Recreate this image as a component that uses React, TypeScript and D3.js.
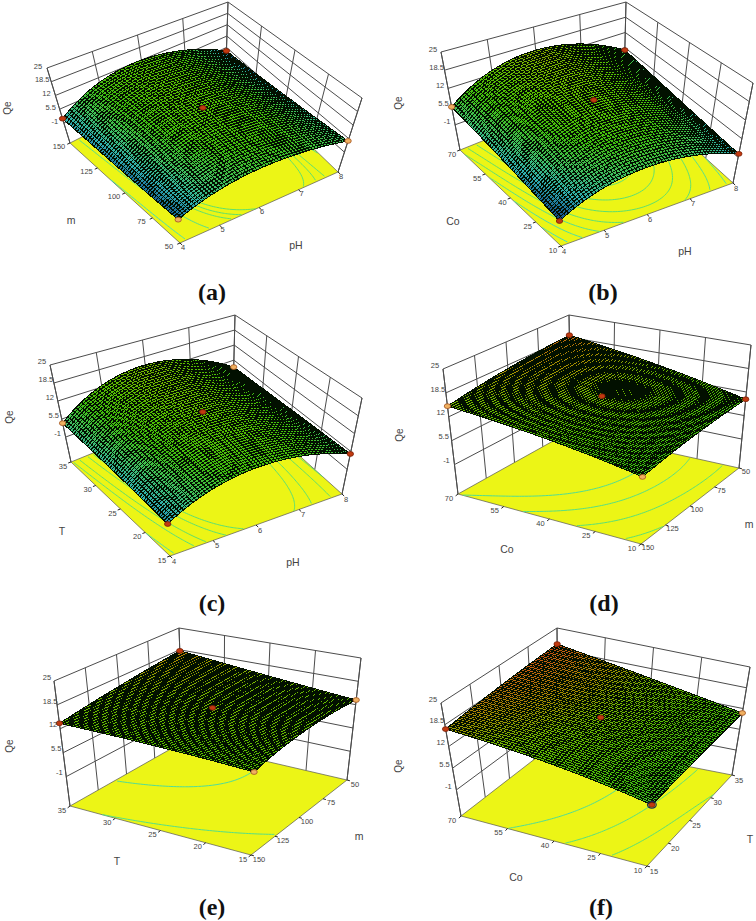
import React from "react";
import * as d3 from "d3";

// ---- data ----
const zTicks = [-1, 5.5, 12, 18.5, 25];
const pHTicks = [4, 5, 6, 7, 8];
const mUp = [50, 75, 100, 125, 150];
const mDown = [150, 125, 100, 75, 50];
const coUp = [10, 25, 40, 55, 70];
const tUp = [15, 20, 25, 30, 35];

// Qe at low / centre / high of each factor; rows run from the front corner toward the left corner
const qeA = [[-1.3, 7, 4.4], [-0.6, 12, 0.9], [1, 12, -3]];
const qeB = [[-2.4, 5.7, 0.2], [1.2, 13.3, 1.9], [5.4, 16, 4.5]];
const qeC = [[0, 9.6, 4.6], [2, 13.6, 3.8], [4, 15.2, 2.5]];
const qeD = [[7.9, 9.5, 10], [12, 15, 15], [14.9, 17.5, 19.1]];
const qeE = [[11.9, 14, 13.3], [13, 15.1, 15.5], [13.5, 16, 18.2]];
const qeF = [[7.6, 9, 10.6], [13, 15.3, 15.5], [17.2, 19, 20.2]];

const levelsA = [-0.2, 3.3, 5.5, 6.2, 6.9];
const levelsB = [-1, 1, 3, 5, 7, 9, 11];
const levelsC = [1, 4.4, 6, 8, 9.2];
const levelsD = [8.8, 11, 13, 14.8];
const levelsE = [13.4, 15.5];
const levelsF = [9.9, 12.5, 15.25];

type Pt = [number, number];
type Panel = {
  id: string; qe: number[][]; levels: number[];
  sTicks: number[]; tTicks: number[]; tName: string; sName: string;
  floor: { L: Pt; F: Pt; R: Pt; B: Pt }; top: { L: Pt; F: Pt; R: Pt; B: Pt };
  zLow: number; sOff: Pt; tOff: Pt; zOff: Pt;
  qePos: Pt; tPos: Pt; sPos: Pt; capPos: Pt;
  pale: string[]; mesh: number;
};

const panels: Panel[] = [
  { id: "a", qe: qeA, levels: levelsA, sTicks: pHTicks, tTicks: mUp, sName: "pH", tName: "m",
    floor: { L: [70, 143], F: [180, 243], R: [338, 172], B: [226, 64] },
    top: { L: [47, 68], F: [173, 153], R: [362, 98], B: [228, 2] },
    zLow: -10.5, sOff: [3, 4], tOff: [-11, 3.5], zOff: [-9, -2],
    qePos: [7, 108], tPos: [71, 220], sPos: [296, 245], capPos: [212, 292], pale: ["F", "R"], mesh: 56 },
  { id: "b", qe: qeB, levels: levelsB, sTicks: pHTicks, tTicks: coUp, sName: "pH", tName: "Co",
    floor: { L: [460, 150], F: [561, 246], R: [733, 183], B: [624, 84] },
    top: { L: [441, 52], F: [554, 131], R: [753, 83], B: [626, 2] },
    zLow: -10, sOff: [3, 5], tOff: [-8, 4], zOff: [-8, -3],
    qePos: [398, 103], tPos: [453, 221], sPos: [685, 251], capPos: [603, 292], pale: ["L"], mesh: 58 },
  { id: "c", qe: qeC, levels: levelsC, sTicks: pHTicks, tTicks: tUp, sName: "pH", tName: "T",
    floor: { L: [71, 462], F: [170, 556], R: [342, 494], B: [233, 396] },
    top: { L: [50, 365], F: [162, 444], R: [362, 398], B: [235, 315] },
    zLow: -10, sOff: [4, 5], tOff: [-8, 4], zOff: [-8, -4],
    qePos: [9, 417], tPos: [62, 531], sPos: [293, 562], capPos: [212, 603], pale: ["L", "B"], mesh: 56 },
  { id: "d", qe: qeD, levels: levelsD, sTicks: mDown, tTicks: coUp, sName: "m", tName: "Co",
    floor: { L: [458, 494], F: [641, 544], R: [739, 468], B: [571, 431] },
    top: { L: [443, 369], F: [644, 409], R: [751, 345], B: [569, 315] },
    zLow: -9, sOff: [7, 3], tOff: [-9, 4], zOff: [-8, -4],
    qePos: [399, 435], tPos: [507, 549], sPos: [749, 524], capPos: [604, 603], pale: ["L", "F"], mesh: 68 },
  { id: "e", qe: qeE, levels: levelsE, sTicks: mDown, tTicks: tUp, sName: "m", tName: "T",
    floor: { L: [70, 806], F: [251, 855], R: [347, 780], B: [183, 742] },
    top: { L: [54, 681], F: [256, 720], R: [361, 658], B: [179, 628] },
    zLow: -9, sOff: [8, 4], tOff: [-8, 4], zOff: [-7, -4],
    qePos: [9, 746], tPos: [117, 861], sPos: [359, 836], capPos: [212, 907], pale: ["F", "R"], mesh: 64 },
  { id: "f", qe: qeF, levels: levelsF, sTicks: tUp, tTicks: coUp, sName: "T", tName: "Co",
    floor: { L: [461, 816], F: [647, 866], R: [732, 775], B: [558, 741] },
    top: { L: [441, 703], F: [657, 740], R: [750, 667], B: [557, 628] },
    zLow: -8.8, sOff: [7, 5], tOff: [-9, 4], zOff: [-8, -4],
    qePos: [398, 766], tPos: [516, 877], sPos: [750, 839], capPos: [601, 907], pale: ["R"], mesh: 58 },
];

const surfaceColor = d3.scaleLinear<string>()
  .domain([-3, -1, 1.5, 5, 9, 13, 15.5, 17.5, 19.5, 21])
  .range(["#10306a", "#1a6a9a", "#30b0b0", "#40c060", "#40c010", "#58c000", "#78b800", "#a89000", "#c86010", "#c83010"])
  .clamp(true);
const contourColor = d3.scaleLinear<string>()
  .domain([-2, 6, 12, 20])
  .range(["#3fdccf", "#5fe06a", "#58e07c", "#40d8c0"]);

const lag = (a: number, b: number, c: number, x: number) =>
  a * (1 - x) * (1 - 2 * x) + b * 4 * x * (1 - x) + c * x * (2 * x - 1);
const qeAt = (q: number[][], s: number, t: number) =>
  lag(lag(q[0][0], q[0][1], q[0][2], s), lag(q[1][0], q[1][1], q[1][2], s), lag(q[2][0], q[2][1], q[2][2], s), t);

function bil(c: { L: Pt; F: Pt; R: Pt; B: Pt }, s: number, t: number): Pt {
  const x = (1 - s) * (1 - t) * c.F[0] + s * (1 - t) * c.R[0] + (1 - s) * t * c.L[0] + s * t * c.B[0];
  const y = (1 - s) * (1 - t) * c.F[1] + s * (1 - t) * c.R[1] + (1 - s) * t * c.L[1] + s * t * c.B[1];
  return [x, y];
}

const line = d3.line<Pt>();
const INK = "#4c4c4c";

function PanelView({ p }: { p: Panel }) {
  const sS = d3.scaleLinear().domain([p.sTicks[0], p.sTicks[4]]).range([0, 1]);
  const tS = d3.scaleLinear().domain([p.tTicks[0], p.tTicks[4]]).range([0, 1]);
  const wS = d3.scaleLinear().domain([p.zLow, 25]).range([0, 1]);
  const proj = (s: number, t: number, z: number): Pt => {
    const a = bil(p.floor, s, t), b = bil(p.top, s, t), w = wS(z);
    return [a[0] + (b[0] - a[0]) * w, a[1] + (b[1] - a[1]) * w];
  };

  // back walls
  const wall: string[] = [];
  const addLine = (pts: Pt[]) => wall.push(line(pts) as string);
  for (const v of p.sTicks) { const s = sS(v); addLine([proj(s, 1, p.zLow), proj(s, 1, 25)]); }
  for (const v of p.tTicks) { const t = tS(v); addLine([proj(1, t, p.zLow), proj(1, t, 25)]); }
  for (const z of zTicks) addLine([proj(0, 1, z), proj(1, 1, z), proj(1, 0, z)]);
  addLine([proj(0, 1, p.zLow), proj(0, 1, 25)]);
  addLine([proj(1, 0, p.zLow), proj(1, 0, 25)]);

  // floor ticks
  const ticks: string[] = [];
  const tDir: Pt = [p.floor.F[0] - p.floor.R[0], p.floor.F[1] - p.floor.R[1]];
  const sDir: Pt = [p.floor.F[0] - p.floor.L[0], p.floor.F[1] - p.floor.L[1]];
  const unit = (d: Pt, k: number): Pt => { const n = Math.hypot(d[0], d[1]); return [d[0] / n * k, d[1] / n * k]; };
  const tu = unit(tDir, 3), su = unit(sDir, 3);
  for (const v of p.tTicks) { const a = proj(0, tS(v), p.zLow); ticks.push(line([a, [a[0] + tu[0], a[1] + tu[1]]]) as string); }
  for (const v of p.sTicks) { const a = proj(sS(v), 0, p.zLow); ticks.push(line([a, [a[0] + su[0], a[1] + su[1]]]) as string); }

  // contours on the floor
  const n = 80;
  const grid = new Array(n * n);
  for (let j = 0; j < n; j++) for (let i = 0; i < n; i++) grid[j * n + i] = qeAt(p.qe, i / (n - 1), j / (n - 1));
  const contourPaths = d3.contours().size([n, n]).thresholds(p.levels)(grid).map((c) => {
    const segs: Pt[][] = [];
    for (const poly of c.coordinates) for (const ring of poly) {
      let cur: Pt[] = [];
      for (const [x, y] of ring as Pt[]) {
        if (x < 0.55 || y < 0.55 || x > n - 0.55 || y > n - 0.55) {
          if (cur.length > 1) segs.push(cur);
          cur = [];
        } else cur.push(bil(p.floor, (x - 0.5) / (n - 1), (y - 0.5) / (n - 1)));
      }
      if (cur.length > 1) segs.push(cur);
    }
    return { z: c.value, d: segs.map((g) => line(g)).join("") };
  });

  // surface, back to front
  const N = p.mesh;
  const uu = d3.scaleLinear().domain([0, N]).range([0, 1]);
  const nodes: Pt[][] = d3.range(N + 1).map((j) => d3.range(N + 1).map((i) => {
    const s = uu(i), t = uu(j);
    return proj(s, t, qeAt(p.qe, s, t));
  }));
  const strips: { key: string; d: string; fill?: string }[] = [];
  for (let j = N - 1; j >= 0; j--) {
    const bins = new Map<string, string>();
    let mesh = "";
    for (let i = N - 1; i >= 0; i--) {
      const q = [nodes[j][i], nodes[j][i + 1], nodes[j + 1][i + 1], nodes[j + 1][i]] as Pt[];
      const z = qeAt(p.qe, uu(i + 0.5), uu(j + 0.5));
      const col = surfaceColor(Math.round(z * 2) / 2);
      bins.set(col, (bins.get(col) || "") + line(q) + "Z");
      mesh += line([q[0], q[3]]);
    }
    mesh += line(nodes[j]) + (line as any)(nodes[j + 1]);
    mesh += line([nodes[j][N], nodes[j + 1][N]]);
    bins.forEach((d, col) => strips.push({ key: `${j}-${col}`, d, fill: col }));
    strips.push({ key: `${j}-m`, d: mesh });
  }

  const corners: { k: string; s: number; t: number }[] = [
    { k: "B", s: 1, t: 1 }, { k: "L", s: 0, t: 1 }, { k: "R", s: 1, t: 0 }, { k: "F", s: 0, t: 0 }, { k: "C", s: 0.5, t: 0.5 },
  ];
  const fmt = (v: number) => String(v);
  const labelStyle = { fontFamily: "'Liberation Sans', Arial, sans-serif", fill: "#444" };

  return (
    <g>
      <path d={wall.join("")} fill="none" stroke={INK} strokeWidth={1} />
      <polygon points={[p.floor.L, p.floor.F, p.floor.R, p.floor.B].map((a) => a.join(",")).join(" ")} fill="#ecf516" stroke="#555" strokeWidth={0.7} />
      {contourPaths.map((c, i) => <path key={i} d={c.d} fill="none" stroke={contourColor(c.z)} strokeWidth={1} />)}
      <path d={ticks.join("")} fill="none" stroke="#222" strokeWidth={1} />
      {strips.map((r) => r.fill
        ? <path key={r.key} d={r.d} fill={r.fill} shapeRendering="crispEdges" />
        : <path key={r.key} d={r.d} fill="none" stroke="#021000" strokeWidth={1} shapeRendering="crispEdges" />)}
      {corners.map((c) => {
        const [x, y] = proj(c.s, c.t, qeAt(p.qe, c.s, c.t));
        const pale = p.pale.includes(c.k);
        return <ellipse key={c.k} cx={x} cy={y} rx={3.2} ry={2.4} fill={pale ? "#f0b060" : "#c23a10"} stroke={pale ? "#a05020" : "#7a2008"} strokeWidth={0.8} />;
      })}
      {p.id === "f" && (() => { const [x, y] = proj(0, 0, qeAt(p.qe, 0, 0)); return <ellipse cx={x} cy={y} rx={4.4} ry={3.4} fill="none" stroke="#1a2a50" strokeWidth={1.2} />; })()}
      {zTicks.map((z) => {
        const [x, y] = proj(0, 1, z);
        return <text key={z} x={x + p.zOff[0]} y={y + p.zOff[1]} dy="0.35em" textAnchor="middle" fontSize={7.5} {...labelStyle}>{fmt(z)}</text>;
      })}
      {p.tTicks.map((v) => {
        const [x, y] = proj(0, tS(v), p.zLow);
        return <text key={v} x={x + p.tOff[0]} y={y + p.tOff[1]} dy="0.35em" textAnchor="middle" fontSize={7.5} {...labelStyle}>{fmt(v)}</text>;
      })}
      {p.sTicks.map((v) => {
        const [x, y] = proj(sS(v), 0, p.zLow);
        return <text key={v} x={x + p.sOff[0]} y={y + p.sOff[1]} dy="0.35em" textAnchor="middle" fontSize={7.5} {...labelStyle}>{fmt(v)}</text>;
      })}
      <text transform={`translate(${p.qePos[0]},${p.qePos[1]}) rotate(-90)`} dy="0.35em" textAnchor="middle" fontSize={10} {...labelStyle}>Qe</text>
      <text x={p.tPos[0]} y={p.tPos[1]} dy="0.35em" textAnchor="middle" fontSize={10.5} {...labelStyle}>{p.tName}</text>
      <text x={p.sPos[0]} y={p.sPos[1]} dy="0.35em" textAnchor="middle" fontSize={10.5} {...labelStyle}>{p.sName}</text>
      <text x={p.capPos[0]} y={p.capPos[1]} dy="0.32em" textAnchor="middle" fontSize={24} fontWeight="bold" fontFamily="'Liberation Serif', 'Times New Roman', serif" fill="#111">({p.id})</text>
    </g>
  );
}

export default function App() {
  return (
    <svg width={756} height={921} viewBox="0 0 756 921" style={{ position: "absolute", left: 0, top: 0, background: "#fff" }}>
      {panels.map((p) => <PanelView key={p.id} p={p} />)}
    </svg>
  );
}
